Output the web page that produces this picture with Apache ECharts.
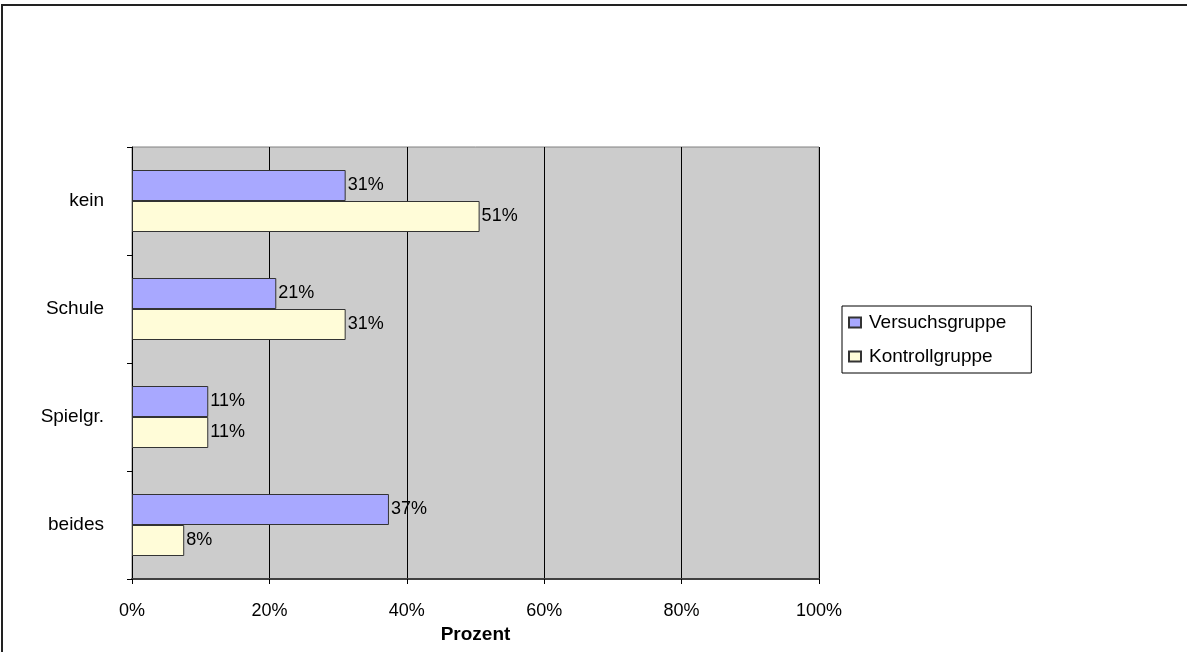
<!DOCTYPE html>
<html>
<head>
<meta charset="utf-8">
<script src="https://cdn.jsdelivr.net/npm/echarts@6/dist/echarts.min.js"></script>
<style>
html,body{margin:0;padding:0;background:#fff;}
#c{width:1187px;height:652px;}
</style>
</head>
<body>
<div id="c"></div>
<script>
const categories = ['kein', 'Schule', 'Spielgr.', 'beides'];
const versuchsgruppe = [31.1, 21.0, 11.1, 37.4];
const kontrollgruppe = [50.6, 31.1, 11.1, 7.6];
const xTicks = [0, 20, 40, 60, 80, 100];

const chart = echarts.init(document.getElementById('c'));
const font = '"Liberation Sans", Arial, sans-serif';
chart.setOption({
  animation: false,
  textStyle: { fontFamily: font },
  graphic: [{
    type: 'rect', z: -10, silent: true,
    shape: { x: 2, y: 5, width: 1200, height: 700 },
    style: { fill: 'none', stroke: '#222', lineWidth: 2 }
  }],
  grid: {
    left: 132, right: 368, top: 147, bottom: 73,
    show: true, backgroundColor: '#cccccc', borderColor: '#808080', borderWidth: 1
  },
  legend: {
    orient: 'vertical', left: 842, top: 306,
    data: ['Versuchsgruppe', 'Kontrollgruppe'],
    icon: 'rect',
    backgroundColor: '#fff', borderColor: '#000', borderWidth: 1,
    padding: [7, 25, 7, 6],
    itemWidth: 12, itemHeight: 10, itemGap: 15,
    textStyle: { fontSize: 19, color: '#000', fontFamily: font, padding: [0, 0, 0, 3] },
    selectedMode: false
  },
  xAxis: {
    type: 'value', min: xTicks[0], max: xTicks[xTicks.length - 1], interval: 20,
    name: 'Prozent', nameLocation: 'middle', nameGap: 45,
    nameTextStyle: { fontSize: 19, fontWeight: 'bold', color: '#000', fontFamily: font },
    axisLine: { show: true, lineStyle: { color: '#404040', width: 2 } },
    axisTick: { show: true, length: 5, lineStyle: { color: '#000' } },
    axisLabel: { fontSize: 18, color: '#000', margin: 23, formatter: v => v + '%' },
    splitLine: { show: true, lineStyle: { color: '#000', width: 1 } }
  },
  yAxis: {
    type: 'category', data: categories, inverse: true,
    axisLine: { show: true, lineStyle: { color: '#000', width: 1 } },
    axisTick: { show: true, length: 5, lineStyle: { color: '#000' } },
    axisLabel: { fontSize: 19, color: '#000', margin: 28 },
    splitLine: { show: false }
  },
  series: [
    {
      name: 'Versuchsgruppe', type: 'bar', data: versuchsgruppe,
      barWidth: 31, barGap: '0%',
      itemStyle: { color: '#a8a8ff', borderColor: '#333', borderWidth: 1 },
      label: { show: true, position: 'right', distance: 2, fontSize: 18, color: '#000',
        formatter: p => Math.round(p.value) + '%' }
    },
    {
      name: 'Kontrollgruppe', type: 'bar', data: kontrollgruppe,
      barWidth: 31, barGap: '0%',
      itemStyle: { color: '#fffcd8', borderColor: '#333', borderWidth: 1 },
      label: { show: true, position: 'right', distance: 2, fontSize: 18, color: '#000',
        formatter: p => Math.round(p.value) + '%' }
    }
  ]
});
</script>
</body>
</html>
